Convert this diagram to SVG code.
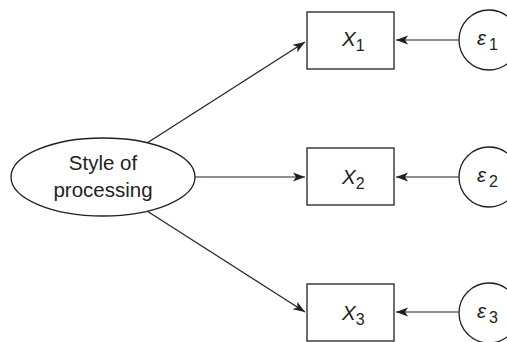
<svg xmlns="http://www.w3.org/2000/svg" width="507" height="342" viewBox="0 0 507 342">
<style>
.shape{fill:#fff;stroke:#231f20;stroke-width:1.3}
.edge{stroke:#231f20;stroke-width:1.2;fill:none}
.t{font-family:"Liberation Sans",Arial,sans-serif;fill:#231f20}
.lbl{font-size:20.5px}
.it{font-style:italic;font-size:20.5px}
.sub{font-size:16px}
</style>
<defs>
<marker id="arr" markerUnits="userSpaceOnUse" markerWidth="13" markerHeight="10" refX="12" refY="5" orient="auto">
<path d="M0,0.5 L12,5 L0,9.5 L3,5 z" fill="#231f20"/>
</marker>
</defs>
<g id="connectors">
<line class="edge" x1="147" y1="143" x2="305" y2="42" marker-end="url(#arr)"/>
<line class="edge" x1="195" y1="177" x2="305" y2="177" marker-end="url(#arr)"/>
<line class="edge" x1="147" y1="211" x2="305" y2="312" marker-end="url(#arr)"/>
<line class="edge" x1="459" y1="40" x2="396" y2="40" marker-end="url(#arr)"/>
<line class="edge" x1="459" y1="177" x2="396" y2="177" marker-end="url(#arr)"/>
<line class="edge" x1="459" y1="312" x2="396" y2="312" marker-end="url(#arr)"/>
</g>
<g id="style">
<ellipse class="shape" cx="103" cy="177" rx="92" ry="39"/>
<text class="t lbl" x="103" y="170" text-anchor="middle">Style of</text>
<text class="t lbl" x="103" y="197" text-anchor="middle">processing</text>
</g>
<g id="x1">
<rect class="shape" x="307" y="12" width="87" height="57"/>
<text class="t" x="342" y="46"><tspan class="it">X</tspan><tspan class="sub" dy="5">1</tspan></text>
</g>
<g id="x2">
<rect class="shape" x="307" y="148" width="87" height="57"/>
<text class="t" x="342" y="184"><tspan class="it">X</tspan><tspan class="sub" dy="5">2</tspan></text>
</g>
<g id="x3">
<rect class="shape" x="307" y="284" width="87" height="57"/>
<text class="t" x="342" y="320"><tspan class="it">X</tspan><tspan class="sub" dy="5">3</tspan></text>
</g>
<g id="e1">
<circle class="shape" cx="489" cy="40" r="30"/>
<text class="t" x="477" y="45"><tspan class="it">ε</tspan><tspan class="sub" dx="3" dy="5">1</tspan></text>
</g>
<g id="e2">
<circle class="shape" cx="489" cy="177" r="30"/>
<text class="t" x="477" y="182"><tspan class="it">ε</tspan><tspan class="sub" dx="3" dy="5">2</tspan></text>
</g>
<g id="e3">
<circle class="shape" cx="489" cy="313" r="30"/>
<text class="t" x="477" y="318"><tspan class="it">ε</tspan><tspan class="sub" dx="3" dy="5">3</tspan></text>
</g>
</svg>
